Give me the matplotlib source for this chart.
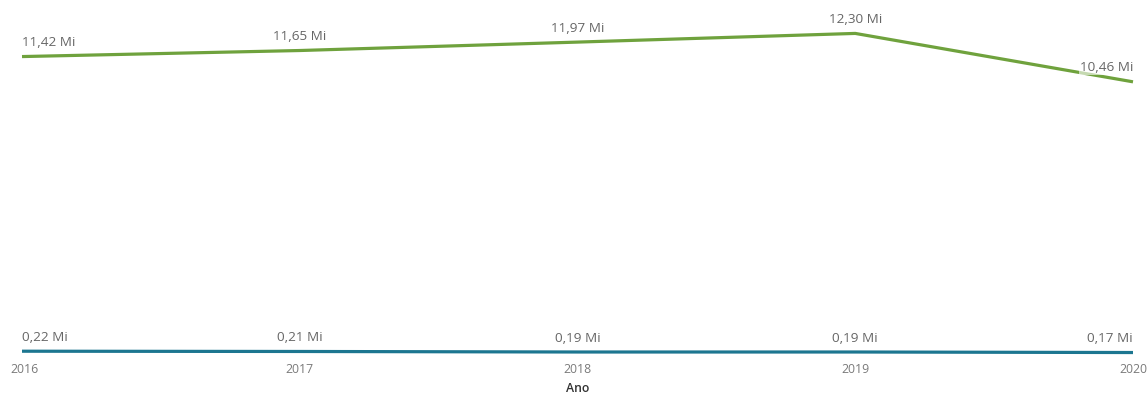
import matplotlib.pyplot as plt
import matplotlib as mpl

mpl.rcParams.update({'font.family': ['Open Sans', 'DejaVu Sans']})

anos = [2016, 2017, 2018, 2019, 2020]
total_mi = [11.42, 11.65, 11.97, 12.30, 10.46]
outro_mi = [0.22, 0.21, 0.19, 0.19, 0.17]

GREEN = '#6FA23D'
TEAL = '#1C7690'
LABEL = '#666666'
TICK = '#7A7A7A'

W, H = 1147, 394
fig = plt.figure(figsize=(W / 100, H / 100), dpi=100)
fig.patch.set_facecolor('white')
# axes placed in pixel terms: x from 22 to 1133, y=0 at 357 px from top
ax = fig.add_axes([22 / W, (H - 357) / H, (1133 - 22) / W, 337 / H])
ax.set_xlim(anos[0], anos[-1])
ax.set_ylim(0, 12.81)
ax.axis('off')

ax.plot(anos, total_mi, color=GREEN, lw=2.3, solid_capstyle='butt', clip_on=False)
ax.plot(anos, outro_mi, color=TEAL, lw=2.3, solid_capstyle='butt', clip_on=False)


def fmt(v):
    return f'{v:.2f}'.replace('.', ',') + ' Mi'


for serie in (total_mi, outro_mi):
    for i, (x, v) in enumerate(zip(anos, serie)):
        ha = 'left' if i == 0 else ('right' if i == len(anos) - 1 else 'center')
        ax.annotate(fmt(v), (x, v), xytext=(0, 10), textcoords='offset points',
                    ha=ha, va='center', fontsize=9.7, color=LABEL,
                    bbox=dict(boxstyle='square,pad=0.05', fc='white', ec='none', alpha=0.6)
                    if i == len(anos) - 1 else None)

for x in anos:
    ax.annotate(str(x), (x, 0), xytext=(1.5 if x == anos[0] else 0, -9), textcoords='offset points',
                ha='center', va='center', fontsize=8.8, color=TICK, annotation_clip=False)

fig.text((22 + 1133) / 2 / W, (H - 388) / H, 'Ano', ha='center', va='center',
         fontsize=8.8, color='#333333', fontweight='semibold')

fig.savefig('out.png', dpi=100, facecolor='white')
